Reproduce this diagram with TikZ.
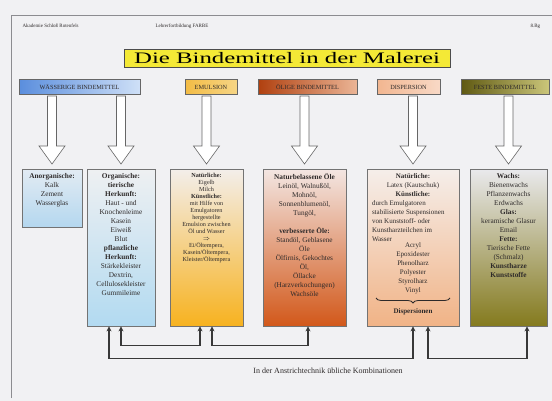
\documentclass[tikz,border=0pt]{standalone}
\usepackage{fontspec}
\setmainfont{Liberation Serif}
\usepackage{graphicx}
\usepackage{xcolor}
\usetikzlibrary{calc,arrows.meta,decorations.pathreplacing}

\definecolor{papier}{HTML}{F1F1F3}
\definecolor{rahmen}{HTML}{8C8C90}
\definecolor{titelgelb}{HTML}{F4E936}
\definecolor{schrift}{HTML}{2E2A2A}
\definecolor{hAl}{HTML}{5A8EDD}\definecolor{hAr}{HTML}{CFE0F7}
\definecolor{hBl}{HTML}{F3BC45}\definecolor{hBr}{HTML}{F6D585}
\definecolor{hCl}{HTML}{B0400F}\definecolor{hCr}{HTML}{EBB596}
\definecolor{hDl}{HTML}{F2B690}\definecolor{hDr}{HTML}{F8D9C6}
\definecolor{hEl}{HTML}{5F5912}\definecolor{hEr}{HTML}{CBC67A}
\definecolor{bAt}{HTML}{E2EBF3}\definecolor{bAb}{HTML}{B4D7EF}
\definecolor{bBt}{HTML}{EEF0F2}\definecolor{bBb}{HTML}{B2DAF1}
\definecolor{bCt}{HTML}{F3EEEA}\definecolor{bCb}{HTML}{F7B21F}
\definecolor{bDt}{HTML}{F3E6E2}\definecolor{bDb}{HTML}{D2581A}
\definecolor{bEt}{HTML}{F5EEEA}\definecolor{bEb}{HTML}{F1B386}
\definecolor{bFt}{HTML}{E9E9EC}\definecolor{bFb}{HTML}{847A1D}

\begin{document}
\begin{tikzpicture}[x=1pt,y=-1pt,
		kopf/.style={draw=black!60, minimum height=15pt, inner sep=1pt, text=schrift,
			font=\fontsize{6.3}{6.3}\selectfont},
		kasten/.style={draw=black!55, anchor=north, minimum height=157pt},
		inhalt/.style={anchor=north, align=center, inner sep=0pt, text=schrift,
			font=\fontsize{7.3}{9}\selectfont},
		hohl/.style={draw=black!60, fill=white, line width=0.6pt},
		kombi/.style={draw=black!78, line width=1.4pt, >={Stealth[length=5pt,width=5pt]}, <->}]
		\fill[papier] (0,0) rectangle (552,401);
		\useasboundingbox (0,0) rectangle (552,401);
		\draw[rahmen, line width=0.9pt] (11,398) -- (11,15) -- (552,15);
		% Kopfzeile
		\node[anchor=west, text=schrift, font=\fontsize{5}{5}\selectfont] (akad) at (19,26) {Akademie Schloß Rotenfels};
		\node[anchor=west, text=schrift, font=\fontsize{5}{5}\selectfont] (lehr) at (152,26) {Lehrerfortbildung FARBE};
		\node[anchor=west, text=schrift, font=\fontsize{5}{5}\selectfont] (seite) at (527,26) {8.Bg};
		\node[draw=black!70, fill=titelgelb, minimum width=326pt, minimum height=18pt, inner sep=0pt] (titel) at (287,58)
		{\scalebox{1.55}[1]{\fontsize{16}{16}\selectfont Die Bindemittel in der Malerei}};
		% Gruppen
		\node[kopf, left color=hAl, right color=hAr, minimum width=121pt] (wass) at (79.5,87) {WÄSSERIGE BINDEMITTEL};
		\node[kopf, left color=hBl, right color=hBr, minimum width=52pt] (emul) at (211,87) {EMULSION};
		\node[kopf, left color=hCl, right color=hCr, minimum width=99pt] (oelig) at (307.5,87) {ÖLIGE BINDEMITTEL};
		\node[kopf, left color=hDl, right color=hDr, minimum width=63pt] (dispk) at (408.5,87) {DISPERSION};
		\node[kopf, left color=hEl, right color=hEr, minimum width=88pt] (feste) at (505,87) {FESTE BINDEMITTEL};
		% Kaesten
		\node[kasten, top color=bAt, bottom color=bAb, minimum width=60pt, minimum height=58pt] (anorg) at (52,169) {};
		\node[kasten, top color=bBt, bottom color=bBb, minimum width=68pt] (org) at (121,169) {};
		\node[kasten, top color=bCt, bottom color=bCb, minimum width=73pt] (emu) at (206.5,169) {};
		\node[kasten, top color=bDt, bottom color=bDb, minimum width=83pt] (oel) at (304.5,169) {};
		\node[kasten, top color=bEt, bottom color=bEb, minimum width=92pt] (disp) at (413,169) {};
		\node[kasten, top color=bFt, bottom color=bFb, minimum width=77pt] (fest) at (508.5,169) {};
		\foreach \b in {anorg,org,emu,oel,disp,fest}
		\draw[hohl] ([yshift=5pt]\b.north) -- ++(-13,-18) -- ++(8.5,0) -- ++(0,-50) -- ++(9,0) -- ++(0,50) -- ++(8.5,0) -- cycle;
		% Texte
		\node[inhalt] (anorgtxt) at ([yshift=-4pt]anorg.north) {\textbf{Anorganische:}\\ Kalk\\ Zement\\ Wasserglas};
		\node[inhalt] (orgtxt) at ([yshift=-4pt]org.north) {\textbf{Organische:}\\ \textbf{tierische}\\ \textbf{Herkunft:}\\ Haut - und\\ Knochenleime\\ Kasein\\ Eiweiß\\ Blut\\
			\textbf{pflanzliche}\\ \textbf{Herkunft:}\\ Stärkekleister\\ Dextrin,\\ Cellulosekleister\\ Gummileime};
		\node[inhalt, font=\fontsize{6.2}{7}\selectfont] (emutxt) at ([yshift=-4pt]emu.north) {\textbf{Natürliche:}\\ Eigelb\\ Milch\\ \textbf{Künstliche:}\\ mit Hilfe von\\ Emulgatoren\\ hergestellte\\
			Emulsion zwischen\\ Öl und Wasser\\ $\Rightarrow$\\ Ei/Öltempera,\\ Kasein/Öltempera,\\ Kleister/Öltempera};
		\node[inhalt] (oeltxt) at ([yshift=-4pt]oel.north) {\textbf{Naturbelassene Öle}\\ Leinöl, Walnußöl,\\ Mohnöl,\\ Sonnenblumenöl,\\ Tungöl,\\[9pt]
			\textbf{verbesserte Öle:}\\ Standöl, Geblasene\\ Öle\\ Ölfirnis, Gekochtes\\ Öl,\\ Öllacke\\ (Harzverkochungen)\\ Wachsöle};
		\node[inhalt, font=\fontsize{7}{9}\selectfont] (disptxt) at ([yshift=-4pt]disp.north) {\textbf{Natürliche:}\\ Latex (Kautschuk)\\ \textbf{Künstliche:}\\
			\parbox[t]{82pt}{\raggedright durch Emulgatoren\\ stabilisierte Suspensionen\\ von Kunststoff- oder\\ Kunstharzteilchen im\\ Wasser}\\
			Acryl\\ Epoxidester\\ Phenolharz\\ Polyester\\ Styrolharz\\ Vinyl\\[12pt] \textbf{Dispersionen}};
		\draw[schrift, line width=0.8pt, decorate, decoration={brace, amplitude=5pt}] (450,298) -- (376,298);
		\node[inhalt] (festtxt) at ([yshift=-4pt]fest.north) {\textbf{Wachs:}\\ Bienenwachs\\ Pflanzenwachs\\ Erdwachs\\ \textbf{Glas:}\\ keramische Glasur\\ Email\\
			\textbf{Fette:}\\ Tierische Fette\\ (Schmalz)\\ \textbf{Kunstharze}\\ \textbf{Kunststoffe}};
		% Kombinationen
		\draw[kombi] ([xshift=-12pt]org.south) -- ++(0,32) -| (disp.south);
		\draw[kombi] (org.south) -- ++(0,19) -| ([xshift=-6.5pt]emu.south);
		\draw[kombi] ([xshift=5.5pt]emu.south) -- ++(0,19) -| ([xshift=3.5pt]oel.south);
		\draw[kombi] ([xshift=15pt]disp.south) -- ++(0,32) -| ([xshift=18.5pt]fest.south);
		\node[text=schrift, font=\fontsize{8}{8}\selectfont] (kombtxt) at (328,371) {In der Anstrichtechnik übliche Kombinationen};
	\end{tikzpicture}
\end{document}
